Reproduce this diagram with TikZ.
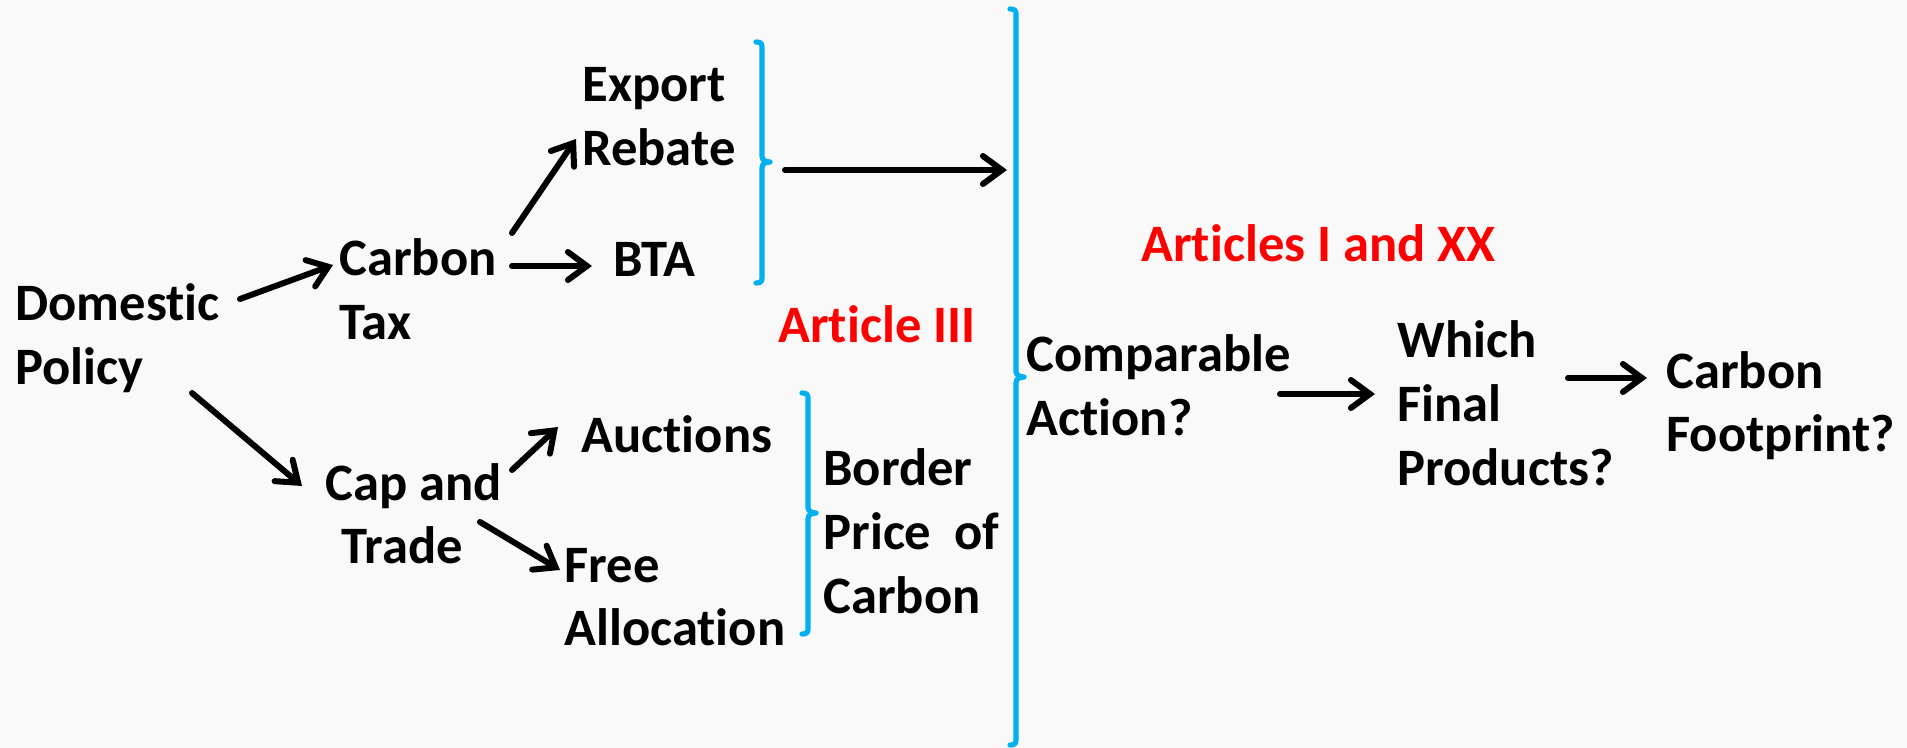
\documentclass[tikz,border=0pt]{standalone}
\usepackage{fontspec}
\setmainfont{Carlito}[Ligatures={NoCommon}]
\usetikzlibrary{arrows.meta}
\definecolor{bracecol}{HTML}{00B0F0}
\definecolor{redtxt}{HTML}{FF0000}
\definecolor{bgcol}{HTML}{F9F9F9}
\begin{document}
\begin{tikzpicture}[x=0.5pt,y=-0.5pt,
  txt/.style={anchor=base west, inner sep=0pt, align=left, font=\fontsize{26.3}{32}\selectfont\bfseries},
  redtext/.style={txt, text=redtxt},
  arr/.style={line width=3pt, line cap=round, -{Straight Barb[length=9.5pt,width=14pt,line cap=round]}},
  brace/.style={draw=bracecol, line width=2.6pt, line cap=round, line join=round}]
\useasboundingbox (0,0) rectangle (1907,748);
\fill[bgcol] (0,0) rectangle (1907,748);

% text nodes (anchor = baseline of the last line)
\node[txt] (dom)   at (15,385)  {Domestic\\Policy};
\node[txt] (ctax)  at (339,340) {Carbon\\Tax};
\node[txt] (exp)   at (582,166) {Export\\Rebate};
\node[txt] (bta)   at (613,277) {BTA};
\node[txt] (cap)   at (325,564) {Cap and\\\hspace*{8pt}Trade};
\node[txt] (auc)   at (581,453) {Auctions};
\node[txt] (free)  at (564,646) {Free\\Allocation};
\node[redtext] (art3) at (778,343) {Article III};
\node[txt] (bord)  at (823,613) {Border\\\hbox to 88pt{Price\hfill of}\\Carbon};
\node[txt] (comp)  at (1026,436) {Comparable\\Action?};
\node[redtext] (art1) at (1141,262) {Articles I and XX};
\node[txt] (which) at (1397,486) {Which\\Final\\Products?};
\node[txt] (cfoot) at (1666,452) {Carbon\\Footprint?};

% arrow end points
\coordinate (dom-o1) at (240,299);  \coordinate (ctax-i) at (333,265);
\coordinate (dom-o2) at (192,393);  \coordinate (cap-i)  at (302,486);
\coordinate (ctax-o1) at (512,233); \coordinate (exp-i)  at (576,139);
\coordinate (ctax-o2) at (512,266); \coordinate (bta-i)  at (592,266);
\coordinate (cap-o1) at (512,470);  \coordinate (auc-i)  at (558,427);
\coordinate (cap-o2) at (480,522);  \coordinate (free-i) at (560,570);
\coordinate (br1-o)  at (785,170);  \coordinate (br3-i)  at (1007,170);
\coordinate (comp-o) at (1280,394); \coordinate (which-i) at (1375,394);
\coordinate (which-o) at (1568,378); \coordinate (cfoot-i) at (1647,378);

\draw[arr] (dom-o1) -- (ctax-i);
\draw[arr] (dom-o2) -- (cap-i);
\draw[arr] (ctax-o1) -- (exp-i);
\draw[arr] (ctax-o2) -- (bta-i);
\draw[arr] (cap-o1) -- (auc-i);
\draw[arr] (cap-o2) -- (free-i);
\draw[arr] (br1-o) -- (br3-i);
\draw[arr] (comp-o) -- (which-i);
\draw[arr] (which-o) -- (cfoot-i);

% braces
\draw[brace] (756,42) .. controls (760,42) and (762,43) .. (762,47) -- (762,156)
  .. controls (762,160) and (765,162) .. (770,162) .. controls (765,162) and (762,164) .. (762,168)
  -- (762,278) .. controls (762,282) and (760,283) .. (756,283);
\draw[brace] (802,393) .. controls (806,393) and (808,394) .. (808,398) -- (808,507)
  .. controls (808,511) and (811,513) .. (816,513) .. controls (811,513) and (808,515) .. (808,519)
  -- (808,629) .. controls (808,633) and (806,634) .. (802,634);
\draw[brace] (1010,9) .. controls (1014,9) and (1016,10) .. (1016,14) -- (1016,371)
  .. controls (1016,375) and (1019,377) .. (1024,377) .. controls (1019,377) and (1016,379) .. (1016,383)
  -- (1016,740) .. controls (1016,744) and (1014,745) .. (1010,745);
\end{tikzpicture}
\end{document}
